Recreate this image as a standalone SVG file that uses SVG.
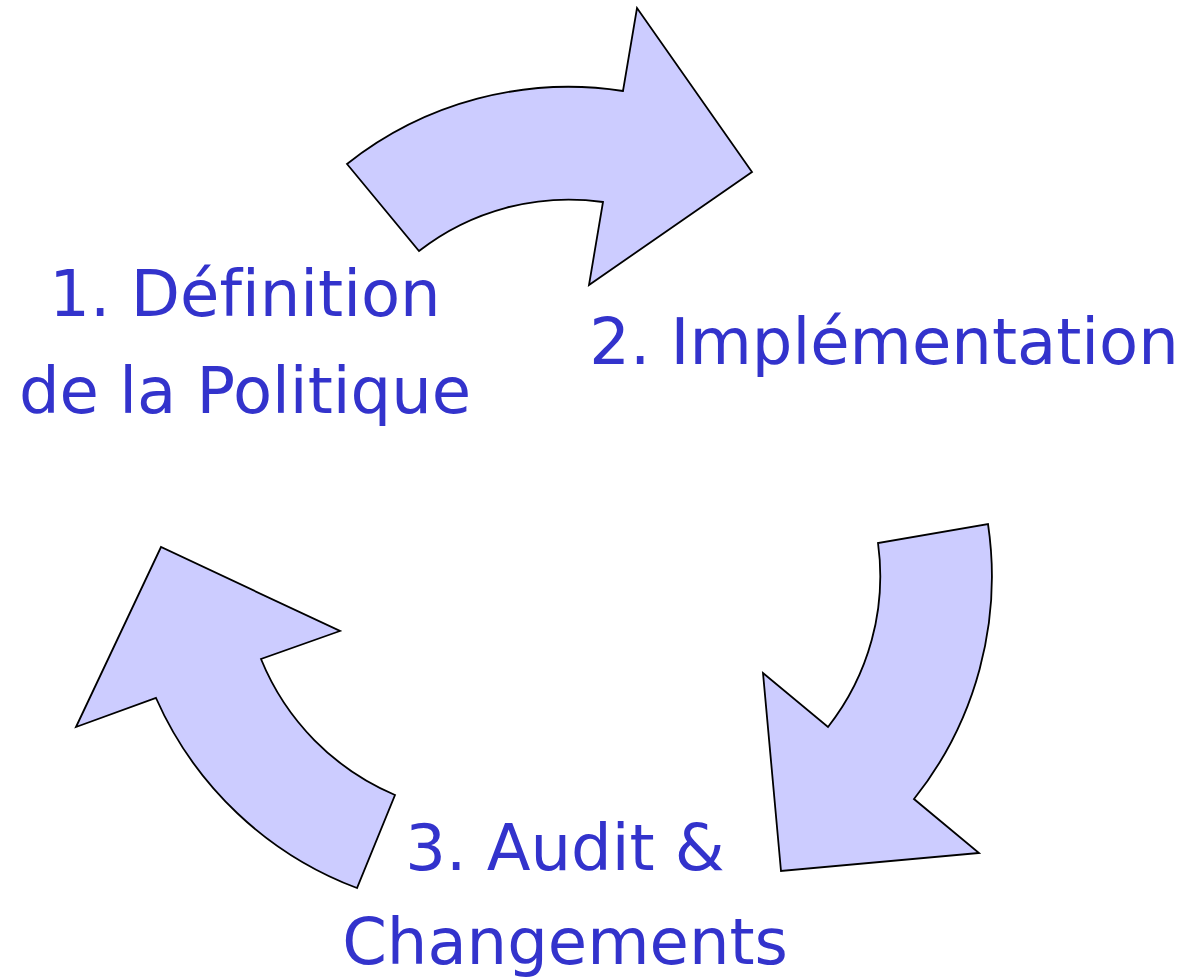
<svg xmlns="http://www.w3.org/2000/svg" width="1191" height="978" viewBox="0 0 1191 978">
<style>
.arrow{fill:#CCCCFF;stroke:#000;stroke-width:1.8;stroke-linejoin:miter}
.lbl{font-family:"DejaVu Sans","Verdana",sans-serif;font-size:64px;fill:#3333CC;text-anchor:middle;font-variant-ligatures:none}
</style>
<rect width="1191" height="978" fill="#fff"/>
<g id="connectors">
<path id="arrow-top" class="arrow" d="M347,164 A357,357 0 0 1 623,91 L637,8 L752,172 L589,285 L603,202 A244,244 0 0 0 419,251 Z"/>
<path id="arrow-right" class="arrow" d="M988,524 A357,357 0 0 1 914,799 L979,853 L781,871 L763,673 L828,727 A244,244 0 0 0 878,543 Z"/>
<path id="arrow-left" class="arrow" d="M357,888 A357,357 0 0 1 156,698 L76,727 L161,547 L340,631 L261,659 A250,250 0 0 0 395,795 Z"/>
</g>
<g id="node-1">
<text class="lbl" x="245" y="316">1. Définition</text>
<text class="lbl" x="245" y="413">de la Politique</text>
</g>
<g id="node-2">
<text class="lbl" x="884" y="364">2. Implémentation</text>
</g>
<g id="node-3">
<text class="lbl" x="565" y="870">3. Audit &amp;</text>
<text class="lbl" x="565" y="964">Changements</text>
</g>
</svg>
